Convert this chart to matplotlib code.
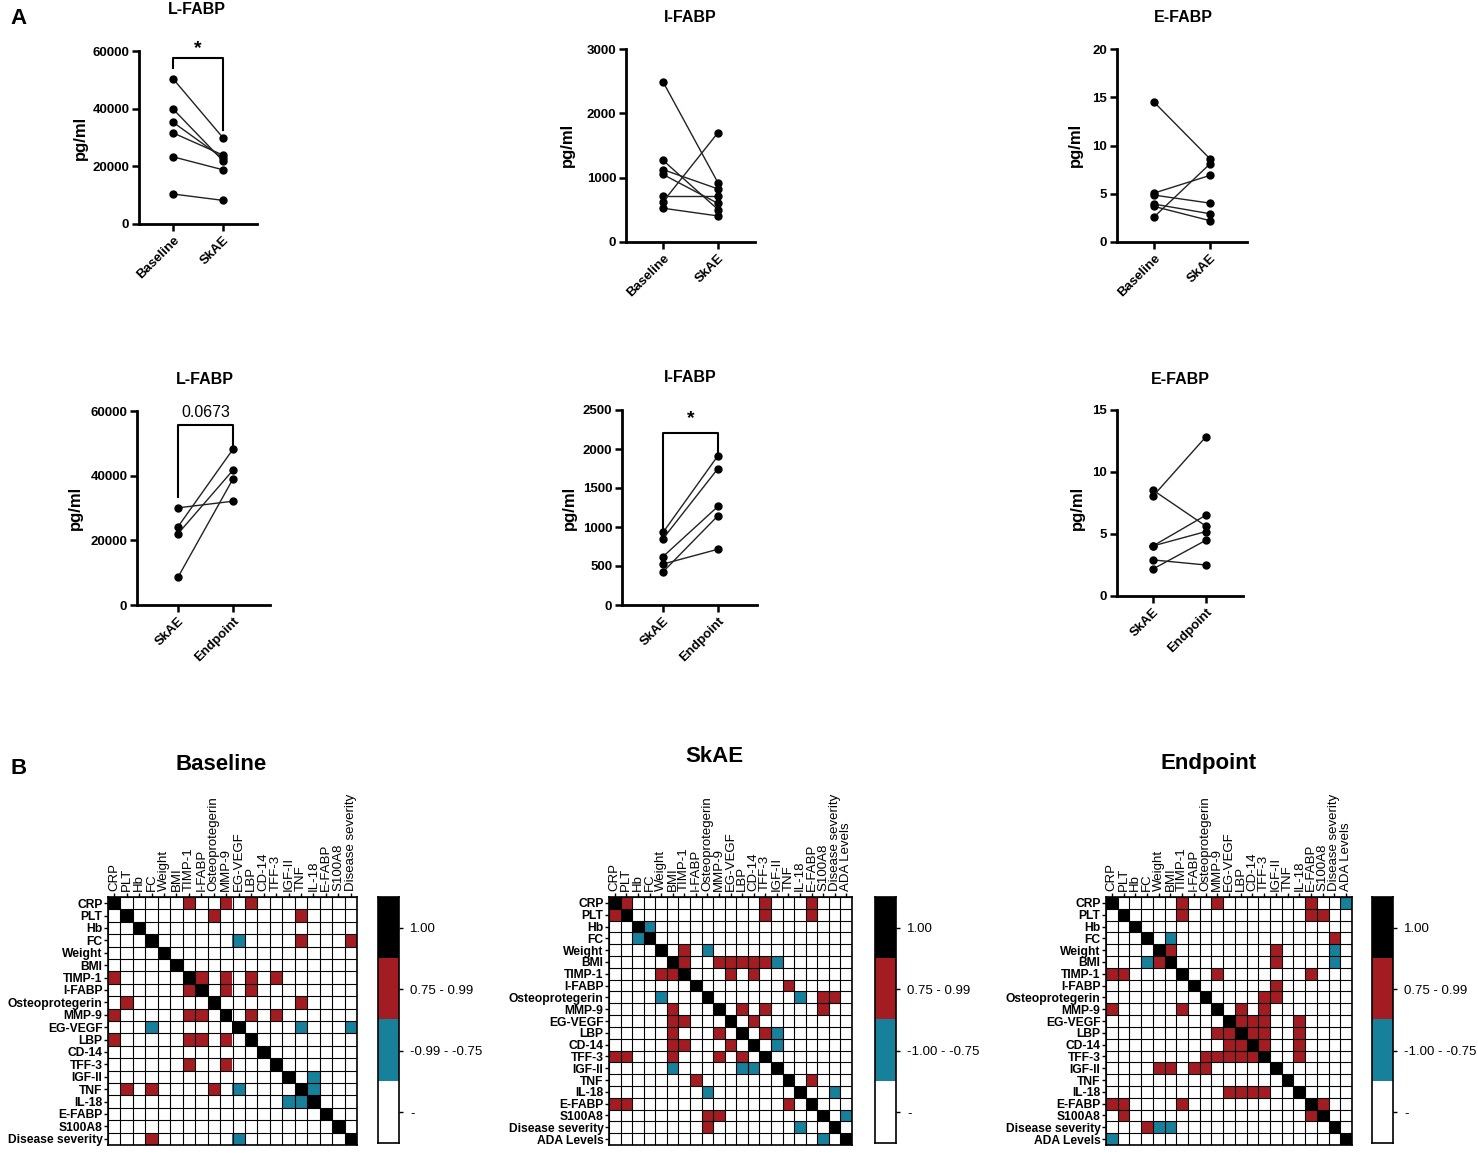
import numpy as np
import matplotlib
matplotlib.use("Agg")
import matplotlib.pyplot as plt
from matplotlib.colors import ListedColormap

plt.rcParams['font.family'] = ['Liberation Sans', 'DejaVu Sans']

W, H = 1478, 1153

# ---- Panel A data (pg/ml), paired values ----
lfabp_baseline = [50400, 39900, 35300, 31600, 23300, 10400]
lfabp_skae_1 = [29900, 21900, 22800, 23900, 18800, 8200]
ifabp_baseline = [2490, 1270, 1125, 1050, 710, 625, 525]
ifabp_skae_1 = [920, 505, 825, 600, 710, 1700, 405]
efabp_baseline = [14.5, 5.07, 4.86, 3.93, 3.69, 2.59]
efabp_skae_1 = [8.62, 6.9, 4.03, 2.93, 2.21, 8.1]

lfabp_skae_2 = [30050, 24200, 22050, 8600]
lfabp_endpoint = [32100, 48200, 41700, 39000]
ifabp_skae_2 = [930, 850, 620, 525, 425]
ifabp_endpoint = [1915, 1750, 1265, 715, 1145]
efabp_skae_2 = [8.54, 8.05, 4.04, 4.04, 2.91, 2.18]
efabp_endpoint = [5.63, 12.85, 6.52, 5.2, 2.5, 4.5]

# ---- Panel B data: correlation classes ----
markers_20 = ['CRP', 'PLT', 'Hb', 'FC', 'Weight', 'BMI', 'TIMP-1', 'I-FABP',
              'Osteoprotegerin', 'MMP-9', 'EG-VEGF', 'LBP', 'CD-14', 'TFF-3',
              'IGF-II', 'TNF', 'IL-18', 'E-FABP', 'S100A8', 'Disease severity']
markers_21 = markers_20 + ['ADA Levels']

baseline_pos = [('CRP', 'TIMP-1'), ('CRP', 'MMP-9'), ('CRP', 'LBP'),
                ('PLT', 'Osteoprotegerin'), ('PLT', 'TNF'),
                ('FC', 'TNF'), ('FC', 'Disease severity'),
                ('TIMP-1', 'I-FABP'), ('TIMP-1', 'MMP-9'), ('TIMP-1', 'LBP'), ('TIMP-1', 'TFF-3'),
                ('I-FABP', 'MMP-9'), ('I-FABP', 'LBP'),
                ('Osteoprotegerin', 'TNF'),
                ('MMP-9', 'LBP'), ('MMP-9', 'TFF-3')]
baseline_neg = [('FC', 'EG-VEGF'), ('EG-VEGF', 'TNF'), ('EG-VEGF', 'Disease severity'),
                ('IGF-II', 'IL-18'), ('TNF', 'IL-18')]

skae_pos = [('CRP', 'PLT'), ('CRP', 'TFF-3'), ('CRP', 'E-FABP'),
            ('PLT', 'TFF-3'), ('PLT', 'E-FABP'),
            ('Weight', 'TIMP-1'),
            ('BMI', 'TIMP-1'), ('BMI', 'MMP-9'), ('BMI', 'EG-VEGF'), ('BMI', 'LBP'),
            ('BMI', 'CD-14'), ('BMI', 'TFF-3'),
            ('TIMP-1', 'EG-VEGF'), ('TIMP-1', 'CD-14'),
            ('I-FABP', 'TNF'),
            ('Osteoprotegerin', 'S100A8'), ('Osteoprotegerin', 'Disease severity'),
            ('MMP-9', 'LBP'), ('MMP-9', 'TFF-3'), ('MMP-9', 'S100A8'),
            ('EG-VEGF', 'CD-14'), ('LBP', 'TFF-3'), ('TNF', 'E-FABP')]
skae_neg = [('Hb', 'FC'), ('Weight', 'Osteoprotegerin'), ('BMI', 'IGF-II'),
            ('Osteoprotegerin', 'IL-18'), ('LBP', 'IGF-II'), ('CD-14', 'IGF-II'),
            ('IL-18', 'Disease severity'), ('S100A8', 'ADA Levels')]

endpoint_pos = [('CRP', 'TIMP-1'), ('CRP', 'MMP-9'), ('CRP', 'E-FABP'),
                ('PLT', 'TIMP-1'), ('PLT', 'E-FABP'), ('PLT', 'S100A8'),
                ('FC', 'Disease severity'),
                ('Weight', 'BMI'), ('Weight', 'IGF-II'), ('BMI', 'IGF-II'),
                ('TIMP-1', 'MMP-9'), ('TIMP-1', 'E-FABP'),
                ('I-FABP', 'IGF-II'),
                ('Osteoprotegerin', 'TFF-3'), ('Osteoprotegerin', 'IGF-II'),
                ('MMP-9', 'LBP'), ('MMP-9', 'TFF-3'),
                ('EG-VEGF', 'LBP'), ('EG-VEGF', 'CD-14'), ('EG-VEGF', 'TFF-3'), ('EG-VEGF', 'IL-18'),
                ('LBP', 'CD-14'), ('LBP', 'TFF-3'), ('LBP', 'IL-18'),
                ('CD-14', 'TFF-3'), ('CD-14', 'IL-18'), ('TFF-3', 'IL-18'),
                ('E-FABP', 'S100A8')]
endpoint_neg = [('CRP', 'ADA Levels'), ('FC', 'BMI'), ('Weight', 'Disease severity'),
                ('BMI', 'Disease severity')]

RED = '#a21c22'
BLUE = '#17809b'

fig = plt.figure(figsize=(W / 100, H / 100), dpi=100)


def px_axes(left, top, right, bottom):
    return fig.add_axes([left / W, 1 - bottom / H, (right - left) / W, (bottom - top) / H])


def pair_panel(axis_x, x0, x1, end_x, top_y, bot_y, ymax, yticks, first, second,
               cats, title, title_xy, ylab_xy):
    ax = px_axes(axis_x, top_y, end_x, bot_y)
    unit = x1 - x0
    ax.set_xlim((axis_x - x0) / unit, 1 + (end_x - x1) / unit)
    ax.set_ylim(0, ymax)
    for a, b in zip(first, second):
        ax.plot([0, 1], [a, b], color='#222222', lw=1.0, marker='o', ms=5,
                mfc='black', mec='black', clip_on=False, zorder=3)
    for s in ['top', 'right']:
        ax.spines[s].set_visible(False)
    for s in ['left', 'bottom']:
        ax.spines[s].set_linewidth(2)
    ax.set_yticks(yticks)
    ax.set_yticklabels([str(t) for t in yticks], fontweight='bold', fontsize=9.5)
    ax.set_xticks([0, 1])
    ax.set_xticklabels(cats, rotation=45, ha='right', rotation_mode='anchor',
                       fontweight='bold', fontsize=9.5)
    ax.tick_params(length=5, width=1.8, pad=2)
    fig.text(title_xy[0] / W, 1 - title_xy[1] / H, title, fontsize=11.5,
             fontweight='bold', ha='center', va='center')
    fig.text(ylab_xy[0] / W, 1 - ylab_xy[1] / H, 'pg/ml', fontsize=12,
             fontweight='bold', ha='center', va='center', rotation=90)
    return ax


def bracket(ax, top, left_low, right_low, label, bold, text_y, size):
    ax.plot([0, 0, 1, 1], [left_low, top, top, right_low], color='black',
            lw=1.5, clip_on=False)
    ax.text(0.5, text_y, label, ha='center', va='center', fontsize=size,
            fontweight='bold' if bold else 'normal', clip_on=False)


# ---- Panel A ----
ax1 = pair_panel(139, 173, 223, 257, 51, 224, 60000, [0, 20000, 40000, 60000],
                 lfabp_baseline, lfabp_skae_1, ['Baseline', 'SkAE'], 'L-FABP',
                 (197, 9), (80, 138))
bracket(ax1, 57500, 54000, 32600, '*', True, 60800, 14)

pair_panel(626, 663, 718, 755, 49, 242, 3000, [0, 1000, 2000, 3000],
           ifabp_baseline, ifabp_skae_1, ['Baseline', 'SkAE'], 'I-FABP',
           (690, 17), (567, 145))

pair_panel(1117, 1154, 1210, 1247, 49, 242, 20, [0, 5, 10, 15, 20],
           efabp_baseline, efabp_skae_1, ['Baseline', 'SkAE'], 'E-FABP',
           (1183, 17), (1075, 145))

ax4 = pair_panel(137, 178, 233, 270, 411, 605, 60000, [0, 20000, 40000, 60000],
                 lfabp_skae_2, lfabp_endpoint, ['SkAE', 'Endpoint'], 'L-FABP',
                 (205, 379), (75, 508))
bracket(ax4, 55600, 33500, 49500, '0.0673', False, 59500, 11.5)

ax5 = pair_panel(622, 663, 718, 757, 410, 605, 2500, [0, 500, 1000, 1500, 2000, 2500],
                 ifabp_skae_2, ifabp_endpoint, ['SkAE', 'Endpoint'], 'I-FABP',
                 (690, 378), (569, 508))
bracket(ax5, 2210, 970, 1950, '*', True, 2390, 14)

pair_panel(1117, 1153, 1206, 1243, 410, 596, 15, [0, 5, 10, 15],
           efabp_skae_2, efabp_endpoint, ['SkAE', 'Endpoint'], 'E-FABP',
           (1180, 380), (1077, 508))

fig.text(10 / W, 1 - 18 / H, 'A', fontsize=16, fontweight='bold', ha='left', va='center')
fig.text(10 / W, 1 - 768 / H, 'B', fontsize=16, fontweight='bold', ha='left', va='center')

# ---- Panel B ----
cmap = ListedColormap(['white', BLUE, RED, 'black'])


def class_matrix(labels, pos, neg):
    n = len(labels)
    m = np.zeros((n, n))
    idx = {k: i for i, k in enumerate(labels)}
    for a, b in pos:
        m[idx[a], idx[b]] = m[idx[b], idx[a]] = 2
    for a, b in neg:
        m[idx[a], idx[b]] = m[idx[b], idx[a]] = 1
    np.fill_diagonal(m, 3)
    return m


def heat_panel(labels, pos, neg, left, right, title, title_xy, cb_left, neg_label):
    n = len(labels)
    ax = px_axes(left, 897, right, 1145)
    m = class_matrix(labels, pos, neg)
    ax.imshow(m, cmap=cmap, vmin=-0.5, vmax=3.5, aspect='auto',
              extent=(-0.5, n - 0.5, n - 0.5, -0.5), interpolation='nearest')
    ax.set_xticks(np.arange(n))
    ax.set_yticks(np.arange(n))
    ax.set_xticks(np.arange(-0.5, n, 1), minor=True)
    ax.set_yticks(np.arange(-0.5, n, 1), minor=True)
    ax.grid(which='minor', color='black', lw=0.8)
    ax.tick_params(which='minor', length=0)
    ax.xaxis.tick_top()
    ax.set_xticklabels(labels, rotation=90, fontsize=9.5, ha='center', va='bottom')
    ax.set_yticklabels(labels, fontsize=8.7, fontweight='bold')
    ax.tick_params(which='major', length=3, width=1, pad=1)
    for s in ax.spines.values():
        s.set_linewidth(1.2)
    fig.text(title_xy[0] / W, 1 - title_xy[1] / H, title, fontsize=16,
             fontweight='bold', ha='center', va='center')

    cb = px_axes(cb_left, 897, cb_left + 21, 1143)
    cb.imshow(np.array([[3], [2], [1], [0]]), cmap=cmap, vmin=-0.5, vmax=3.5,
              aspect='auto', extent=(0, 1, 3.5, -0.5))
    cb.set_xticks([])
    cb.yaxis.tick_right()
    cb.set_yticks([0, 1, 2, 3])
    cb.set_yticklabels(['1.00', '0.75 - 0.99', neg_label, '-'], fontsize=9.5)
    cb.tick_params(length=3, width=1, pad=5)
    for s in cb.spines.values():
        s.set_linewidth(1.2)


heat_panel(markers_20, baseline_pos, baseline_neg, 108, 357, 'Baseline', (221, 765),
           378, '-0.99 - -0.75')
heat_panel(markers_21, skae_pos, skae_neg, 609, 852, 'SkAE', (714, 756),
           875, '-1.00 - -0.75')
heat_panel(markers_21, endpoint_pos, endpoint_neg, 1106, 1352, 'Endpoint', (1209, 763),
           1372, '-1.00 - -0.75')

fig.savefig('out.png', dpi=100)
